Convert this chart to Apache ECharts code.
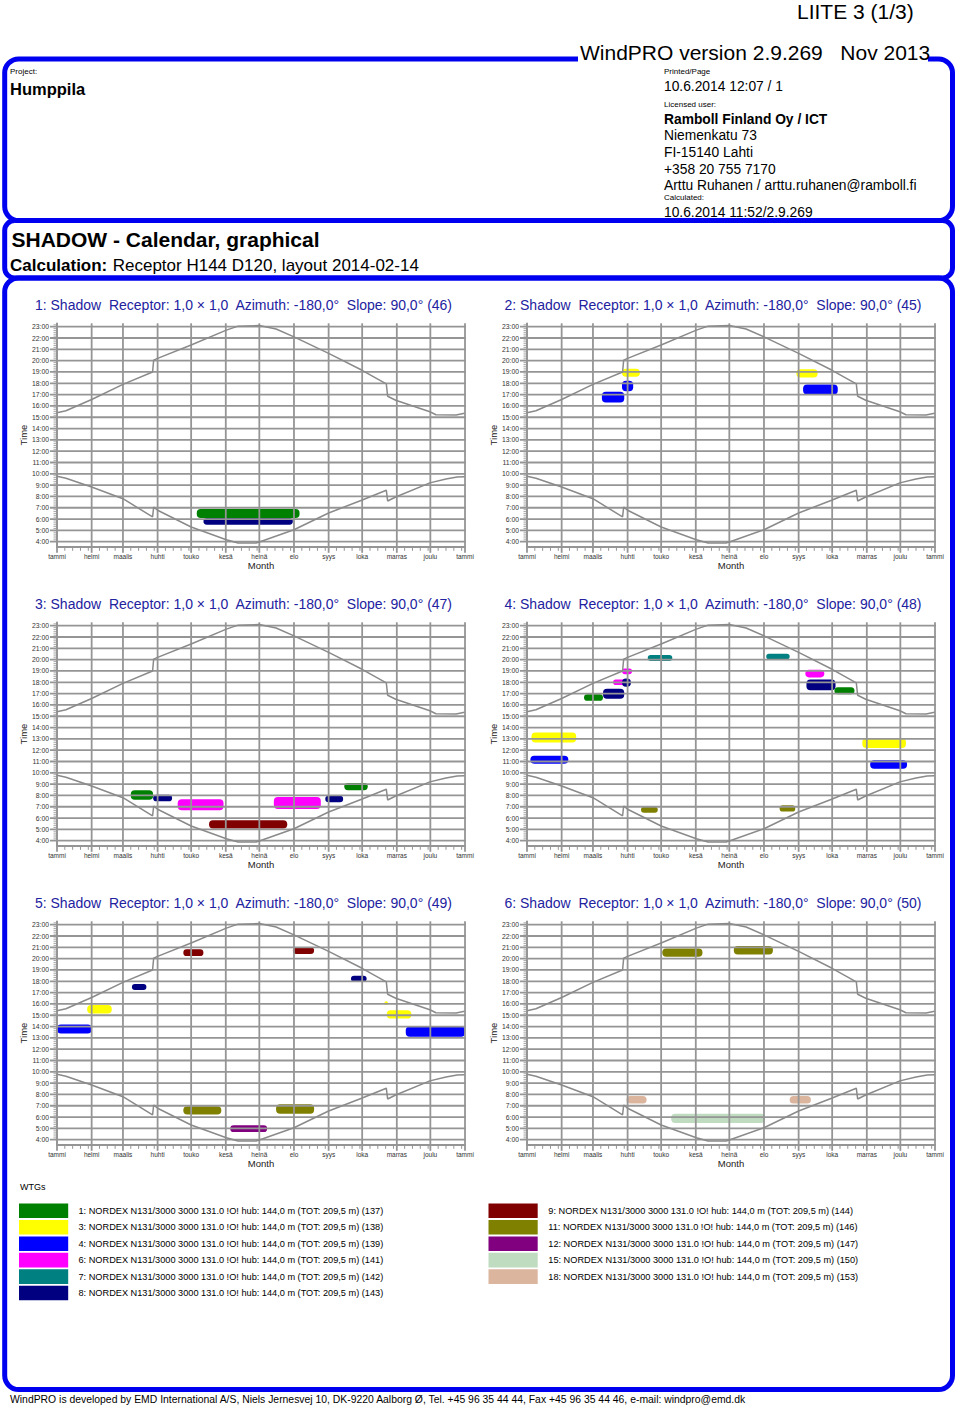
<!DOCTYPE html>
<html><head><meta charset="utf-8">
<script src="https://cdn.jsdelivr.net/npm/echarts@6.0.0/dist/echarts.min.js"></script>
<style>html,body{margin:0;padding:0;background:#fff}#c{width:960px;height:1407px}</style>
</head><body><div id="c"></div>
<script>
// ---------------- data ----------------
const months = ['tammi','helmi','maalis','huhti','touko','kesä','heinä','elo','syys','loka','marras','joulu','tammi'];
const monthStartDays = [0,31,59,90,120,151,181,212,243,273,304,334,365];
const hourTicks = [4,5,6,7,8,9,10,11,12,13,14,15,16,17,18,19,20,21,22,23];
const hourLabels = ['4:00','5:00','6:00','7:00','8:00','9:00','10:00','11:00','12:00','13:00','14:00','15:00','16:00','17:00','18:00','19:00','20:00','21:00','22:00','23:00'];

// sunset / sunrise (day of year, hour)
const sunsetDays  = [0,8,31,59,85.5,86.5,90,120,151.5,162,181,196,212,243,272.5,294.6,295.8,303,333.6,339,357,364.6];
const sunsetHours = [15.39,15.57,16.57,17.9,19.0,20.05,20.2,21.38,22.7,23.05,23.1,22.8,22.1,20.64,19.17,17.95,16.85,16.5,15.48,15.22,15.2,15.35];
const sunriseDays  = [0,8,31,59,85.5,86.5,90,120,151.5,162,178,181,212,243,272.5,294.6,295.8,303,333.6,348,358,364.6];
const sunriseHours = [9.78,9.6,8.84,7.8,6.19,7.07,6.78,5.3,4.18,3.88,3.88,3.97,5.06,6.54,7.66,8.55,7.6,7.95,9.2,9.55,9.72,9.73];

// WTGs
const wtgIds  = [1,3,4,6,7,8,9,11,12,15,18];
const wtgRefs = [137,138,139,141,142,143,144,146,147,150,153];
const wtgModel = 'NORDEX N131/3000 3000 131.0 !O! hub: 144,0 m (TOT: 209,5 m)';

// receptors
const receptorNums = [1,2,3,4,5,6];
const receptorIds  = [46,45,47,48,49,50];

// shadow periods: [wtg, dayStart, dayEnd, hourLow, hourHigh]
const shadow1 = [[8,131,211,5.5,6.1],[1,125,217,6.1,6.9]];
const shadow2 = [[3,85,101,18.58,19.28],[4,85,95,17.3,18.22],[4,67,87,16.3,17.25],[3,241,260,18.5,19.25],[4,247,278,17.0,17.9]];
const shadow3 = [[1,66,86,7.63,8.46],[8,86,103,7.48,8.07],[6,108,149,6.69,7.66],[9,136,206,5.07,5.8],[6,194,236,6.8,7.87],[8,240,256,7.4,7.98],[1,257,278,8.46,9.1]];
const shadow4 = [[7,108,130,19.87,20.4],[7,214,235,20.02,20.52],[6,85,94,18.72,19.22],[6,77,89,17.75,18.25],[8,85,93,17.6,18.34],[8,68,87,16.54,17.42],[1,51,68,16.36,16.95],[3,4,44,12.68,13.56],[4,3,37,10.8,11.5],[11,102,117,6.48,7.01],[11,226,240,6.57,7.13],[6,249,266,18.43,19.1],[8,250,276,17.3,18.25],[1,275,293,16.95,17.57],[3,300,339,12.2,13.06],[4,307,340,10.35,11.1]];
const shadow5 = [[4,0,31,13.38,14.18],[3,27,49,15.15,15.9],[8,67,80,17.22,17.75],[9,113,131,20.23,20.82],[11,113,147,6.22,6.95],[12,155,188,4.68,5.27],[11,196,230,6.3,7.13],[9,211,230,20.4,21.02],[8,263,277,17.95,18.49],[3,293,296,15.9,16.24],[3,295,317,14.7,15.45],[4,312,365,13.1,14.0]];
const shadow6 = [[15,129,213,5.48,6.3],[11,121,157,20.17,20.9],[11,185,220,20.37,21.11],[18,89,107,7.19,7.87],[18,235,254,7.19,7.87]];
const shadows = [shadow1,shadow2,shadow3,shadow4,shadow5,shadow6];

// ---------------- styles ----------------
const wtgColors = {1:'#008000',3:'#ffff00',4:'#0000ff',6:'#ff00ff',7:'#008080',8:'#000080',9:'#800000',11:'#808000',12:'#800080',15:'#c0dcc0',18:'#dbb59e'};
const FONT = '"Liberation Sans", Arial, Helvetica, sans-serif';
const BLUE = '#0000f0';
const GRID_C = '#959595';
const Y_MIN = 3.55, Y_MAX = 23.3, X_MIN = 0, X_MAX = 365;
const gridLefts = [57, 527];
const gridTops = [323.3, 622.3, 921.3];
const GRID_W = 408, GRID_H = 223.5;

// decoration items: [kind, value]  kind 0 hour line, 1 month line, 2 minor y tick, 3 weekly x tick
const decoItems = [];
hourTicks.forEach(h => decoItems.push([0, h]));
monthStartDays.forEach(d => decoItems.push([1, d]));
for (let h = 4; h < 23.3; h += 1) { for (let k = 1; k < 6; k++) { if (h + k/6 < Y_MAX) decoItems.push([2, h + k/6]); } }
for (let m = 0; m < 12; m++) { for (let w = 7; w < 29; w += 7) { if (monthStartDays[m] + w < monthStartDays[m+1] - 1) decoItems.push([3, monthStartDays[m] + w]); } }

function decoRender(params, api) {
  const kind = api.value(0), v = api.value(1);
  if (kind === 0) {
    const p0 = api.coord([X_MIN, v]), p1 = api.coord([X_MAX, v]);
    return {type:'line', shape:{x1:p0[0]-7, y1:p0[1], x2:p1[0]+1, y2:p1[1]}, style:{stroke:GRID_C, lineWidth:1.8}};
  }
  if (kind === 1) {
    const p0 = api.coord([v, Y_MIN]), p1 = api.coord([v, Y_MAX]);
    return {type:'line', shape:{x1:p0[0], y1:p0[1]+6, x2:p1[0], y2:p1[1]}, style:{stroke:GRID_C, lineWidth:1.8}};
  }
  if (kind === 2) {
    const p = api.coord([X_MIN, v]);
    return {type:'line', shape:{x1:p[0]-3.5, y1:p[1], x2:p[0], y2:p[1]}, style:{stroke:GRID_C, lineWidth:0.8}};
  }
  const p = api.coord([v, Y_MIN]);
  return {type:'line', shape:{x1:p[0], y1:p[1], x2:p[0], y2:p[1]+4}, style:{stroke:GRID_C, lineWidth:1}};
}

function blobRender(params, api) {
  const a = api.coord([api.value(1), api.value(4)]);
  const b = api.coord([api.value(2), api.value(3)]);
  const w = Math.max(b[0]-a[0], 2), h = Math.max(b[1]-a[1], 2);
  return {type:'rect', shape:{x:a[0], y:a[1], width:w, height:h, r:Math.min(4, h/2)}, style:{fill: wtgColors[api.value(0)]}};
}

const grids = [], xAxes = [], yAxes = [], series = [], graphics = [];
const sunsetData = sunsetDays.map((d,i)=>[d, sunsetHours[i]]);
const sunriseData = sunriseDays.map((d,i)=>[d, sunriseHours[i]]);

for (let i = 0; i < 6; i++) {
  const col = i % 2, row = Math.floor(i/2);
  grids.push({left: gridLefts[col], top: gridTops[row], width: GRID_W, height: GRID_H});
  xAxes.push({
    type:'value', gridIndex:i, min:X_MIN, max:X_MAX,
    name:'Month', nameLocation:'middle', nameGap:14,
    nameTextStyle:{fontFamily:FONT, fontSize:9.5, color:'#222'},
    axisLine:{show:true, lineStyle:{color:GRID_C, width:1.8}},
    axisTick:{show:false}, splitLine:{show:false},
    axisLabel:{customValues: monthStartDays, margin:6, fontFamily:FONT, fontSize:6.5, color:'#333',
      formatter: v => months[monthStartDays.indexOf(v)]}
  });
  yAxes.push({
    type:'value', gridIndex:i, min:Y_MIN, max:Y_MAX,
    name:'Time', nameLocation:'middle', nameGap:27, nameRotate:90,
    nameTextStyle:{fontFamily:FONT, fontSize:9.5, color:'#222'},
    axisLine:{show:true, lineStyle:{color:GRID_C, width:1.8}},
    axisTick:{show:false}, splitLine:{show:false},
    axisLabel:{customValues: hourTicks, margin:8, fontFamily:FONT, fontSize:6.8, color:'#333',
      formatter: v => hourLabels[hourTicks.indexOf(v)]}
  });
  series.push({type:'custom', xAxisIndex:i, yAxisIndex:i, z:1, silent:true, renderItem: blobRender,
    encode:{x:[1,2], y:[3,4]}, data: shadows[i]});
  series.push({type:'custom', xAxisIndex:i, yAxisIndex:i, z:2, silent:true, renderItem: decoRender,
    encode:{x:-1, y:-1}, data: decoItems});
  series.push({type:'line', xAxisIndex:i, yAxisIndex:i, z:3, silent:true, symbol:'none',
    lineStyle:{color:'#8a8a8a', width:1.5}, data: sunsetData});
  series.push({type:'line', xAxisIndex:i, yAxisIndex:i, z:3, silent:true, symbol:'none',
    lineStyle:{color:'#8a8a8a', width:1.5}, data: sunriseData});
  graphics.push({type:'text', x: col === 0 ? 243.5 : 713, y: gridTops[row] - 18.5,
    style:{text: receptorNums[i] + ': Shadow  Receptor: 1,0 × 1,0  Azimuth: -180,0°  Slope: 90,0° (' + receptorIds[i] + ')',
      font: '14px ' + FONT, fill:'#2222a0', align:'center', verticalAlign:'middle'}});
}

// frame
const frame = [
  {type:'rect', shape:{x:4.7, y:59, width:947.8, height:161.5, r:14}, style:{fill:'none', stroke:BLUE, lineWidth:5}},
  {type:'rect', shape:{x:4.7, y:220.5, width:947.8, height:57.5, r:10}, style:{fill:'none', stroke:BLUE, lineWidth:5}},
  {type:'rect', shape:{x:4.7, y:278, width:947.8, height:1111.5, r:14}, style:{fill:'none', stroke:BLUE, lineWidth:5}},
  {type:'rect', shape:{x:578, y:50, width:350, height:14}, style:{fill:'#fff'}}
];
function txt(x, y, text, size, weight, extra) {
  return Object.assign({type:'text', x, y, style:{text, font:(weight||'normal') + ' ' + size + 'px ' + FONT, fill:'#000', align:'left', verticalAlign:'middle'}}, extra||{});
}
const texts = [
  txt(797, 11, 'LIITE 3 (1/3)', 21),
  txt(580, 52, 'WindPRO version 2.9.269   Nov 2013', 21),
  txt(10, 71, 'Project:', 8),
  txt(10, 89, 'Humppila', 16.5, 'bold'),
  txt(664, 71, 'Printed/Page', 8),
  txt(664, 86, '10.6.2014 12:07 / 1', 13.8),
  txt(664, 104, 'Licensed user:', 8),
  txt(664, 119, 'Ramboll Finland Oy / ICT', 13.8, 'bold'),
  txt(664, 135.7, 'Niemenkatu 73', 13.8),
  txt(664, 152.3, 'FI-15140 Lahti', 13.8),
  txt(664, 169, '+358 20 755 7170', 13.8),
  txt(664, 185.7, 'Arttu Ruhanen / arttu.ruhanen@ramboll.fi', 13.8),
  txt(664, 197.3, 'Calculated:', 8),
  txt(664, 212.3, '10.6.2014 11:52/2.9.269', 13.8),
  txt(11.5, 239, 'SHADOW - Calendar, graphical', 21, 'bold'),
  txt(10, 265, 'Calculation:', 17, 'bold'),
  txt(112.7, 265, 'Receptor H144 D120, layout 2014-02-14', 17),
  txt(20, 1187, 'WTGs', 9),
  txt(10, 1399.5, 'WindPRO is developed by EMD International A/S, Niels Jernesvej 10, DK-9220 Aalborg Ø, Tel. +45 96 35 44 44, Fax +45 96 35 44 46, e-mail: windpro@emd.dk', 10.4)
];
// legend
wtgIds.forEach((id, k) => {
  const col = k < 6 ? 0 : 1, row = k < 6 ? k : k - 6;
  const sx = col === 0 ? 19 : 488.5, tx = col === 0 ? 78.5 : 548.3;
  const cy = 1210.8 + row * 16.45;
  texts.push({type:'rect', shape:{x:sx, y:cy-7.3, width:49.2, height:14.6}, style:{fill: wtgColors[id]}});
  texts.push(txt(tx, cy, id + ': ' + wtgModel + ' (' + wtgRefs[k] + ')', 9.2));
});

const chart = echarts.init(document.getElementById('c'), null, {renderer:'svg'});
chart.setOption({
  animation:false,
  backgroundColor:'#fff',
  grid: grids, xAxis: xAxes, yAxis: yAxes, series: series,
  graphic: frame.concat(texts, graphics)
});
</script></body></html>
